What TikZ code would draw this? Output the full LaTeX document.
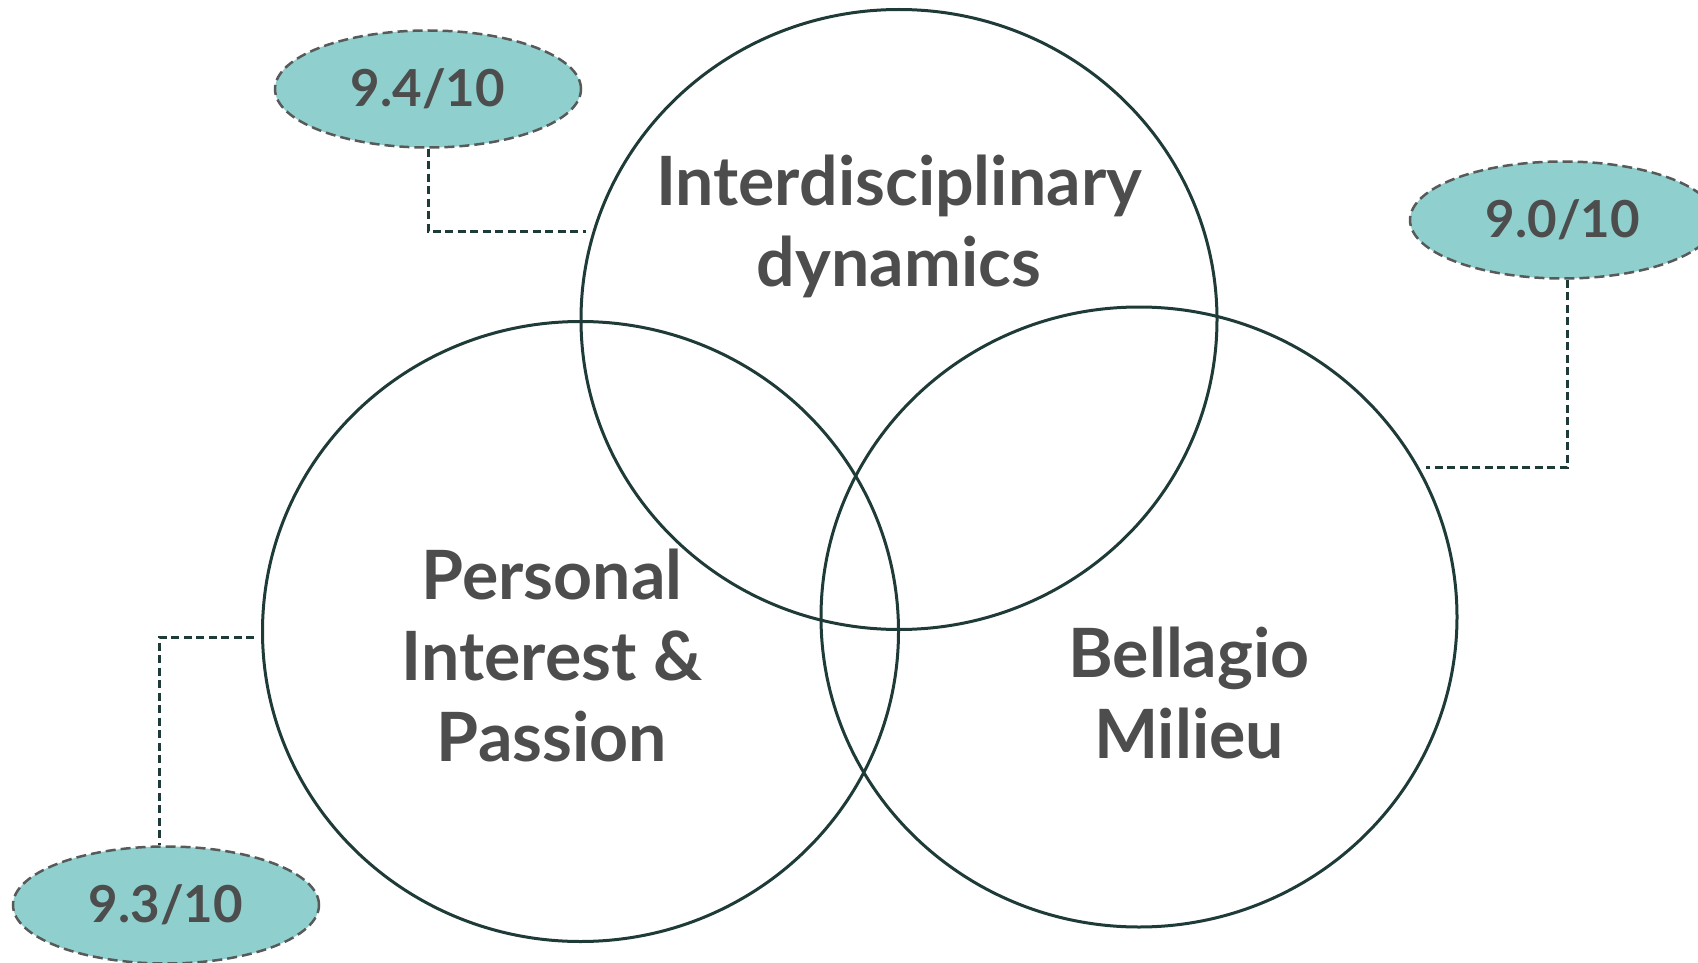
\documentclass[tikz,border=0pt]{standalone}
\usepackage{fontspec}
\setmainfont{Lato}
\usetikzlibrary{shapes.geometric}
\definecolor{ringteal}{RGB}{30,59,56}
\definecolor{scorefill}{RGB}{143,208,206}
\definecolor{scoreline}{RGB}{88,90,90}
\definecolor{labelgray}{RGB}{77,77,77}

\begin{document}
\begin{tikzpicture}[x=1pt,y=-1pt,
  every node/.style={text=labelgray},
  ring/.style={ellipse,draw=ringteal,line width=3pt,minimum width=636pt,minimum height=620pt,inner sep=0pt},
  score/.style={ellipse,fill=scorefill,draw=scoreline,line width=2.5pt,dash pattern=on 10pt off 5pt,minimum width=306pt,minimum height=117pt,inner sep=0pt,font=\bfseries\fontsize{51}{60}\selectfont},
  lead/.style={draw=ringteal,line width=3pt,dash pattern=on 8pt off 4.5pt},
  lbl/.style={align=center,font=\bfseries\fontsize{68}{81}\selectfont}]
  \useasboundingbox (0,0) rectangle (1698,963);

  % the three rings
  \node[ring] (inter) at (899,319.5) {};
  \node[ring] (pers) at (580.5,631.5) {};
  \node[ring] (bell) at (1139,617) {};

  \node[lbl] (intername) at (899,226) {Interdisciplinary\\dynamics};
  \node[lbl] (persname) at (552,656) {Personal\\Interest \&\\Passion};
  \node[lbl] (bellname) at (1189,693) {Bellagio\\Milieu};

  % scores
  \node[score] (sinter) at (428,89) {9.4/10};
  \node[score] (sbell) at (1563,220) {9.0/10};
  \node[score] (spers) at (166,905) {9.3/10};

  \draw[lead,shorten >=7pt] (sinter.south) |- (inter.164);
  \draw[lead,shorten >=6pt] (sbell.-86) |- (bell.28);
  \draw[lead,shorten <=7pt] (pers.181) -| (spers.96);
\end{tikzpicture}
\end{document}
